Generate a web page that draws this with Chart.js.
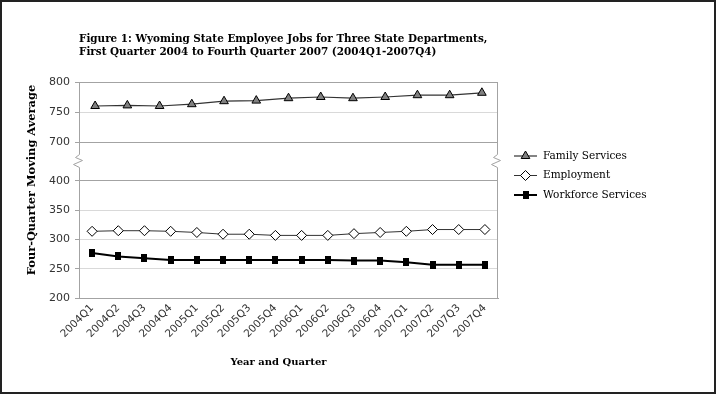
<!DOCTYPE html>
<html>
<head>
<meta charset="utf-8">
<script src="https://cdn.jsdelivr.net/npm/chart.js@4.4.1/dist/chart.umd.min.js"></script>
<style>
  html, body { margin: 0; background: #fff; }
  canvas { display: block; }
</style>
</head>
<body>
<canvas id="jobsChart" width="718" height="395"></canvas>
<script>
const quarters = ['2004Q1', '2004Q2', '2004Q3', '2004Q4', '2005Q1', '2005Q2', '2005Q3', '2005Q4',
  '2006Q1', '2006Q2', '2006Q3', '2006Q4', '2007Q1', '2007Q2', '2007Q3', '2007Q4'];
// the Family Services line only has 13 points, spread over the same width
const familyPoints = ['2004Q4', '2005Q1', '2005Q2', '2005Q3', '2005Q4', '2006Q1', '2006Q2',
  '2006Q3', '2006Q4', '2007Q1', '2007Q2', '2007Q3', '2007Q4'];
const familyServices = [760, 761, 760, 763, 768, 769, 773, 775, 773, 775, 778, 778, 782];
const employment = [314, 315, 315, 314, 312, 309, 309, 307, 307, 307, 310, 312, 314, 317, 317, 317];
const workforce = [277, 271, 268, 265, 265, 265, 265, 265, 265, 265, 264, 264, 261, 257, 257, 257];
const upperTicks = [700, 750, 800];
const lowerTicks = [200, 250, 300, 350, 400];

const titleLines = ['Figure 1: Wyoming State Employee Jobs for Three State Departments,',
  'First Quarter 2004 to Fourth Quarter 2007 (2004Q1-2007Q4)'];
const yTitle = 'Four-Quarter Moving Average';
const xTitle = 'Year and Quarter';

const serif = '"DejaVu Serif", serif';
const sans = '"DejaVu Sans", sans-serif';
const edgeGrid = '#a3a3a3';
const innerGrid = '#d9d9d9';

// black bar marker, a little taller than wide
const barMarker = document.createElement('canvas');
barMarker.width = 6;
barMarker.height = 8;
barMarker.getContext('2d').fillRect(0, 0, 6, 8);

function gridColor(edges) {
  return (ctx) => (ctx.tick && edges.includes(ctx.tick.value) ? edgeGrid : innerGrid);
}

function brokenLine(ctx, x, top, bottom, yb) {
  const zig = [[0, -7], [-4, -4], [3, -1], [-6, 3], [0, 6]];
  ctx.beginPath();
  ctx.moveTo(x, top);
  zig.forEach(([dx, dy]) => ctx.lineTo(x + dx, yb + dy));
  ctx.lineTo(x, bottom);
  ctx.stroke();
}

const decorations = {
  id: 'decorations',
  beforeDraw(chart) {
    const { ctx, width, height } = chart;
    ctx.save();
    ctx.fillStyle = '#fff';
    ctx.fillRect(0, 0, width, height);
    ctx.strokeStyle = '#222';
    ctx.lineWidth = 2;
    ctx.strokeRect(1, 1, width - 4, height - 3);
    ctx.restore();
  },
  afterDraw(chart) {
    const { ctx, chartArea } = chart;
    const yb = chart.scales.yTop.bottom;
    ctx.save();
    ctx.strokeStyle = edgeGrid;
    ctx.lineWidth = 1;
    brokenLine(ctx, Math.round(chartArea.left) + 0.5, chartArea.top, chartArea.bottom, yb);
    brokenLine(ctx, Math.round(chartArea.right) - 0.5, chartArea.top, chartArea.bottom, yb);

    // axis titles
    ctx.fillStyle = '#000';
    ctx.textAlign = 'center';
    ctx.textBaseline = 'middle';
    ctx.font = 'bold 10px ' + serif;
    ctx.fillText(xTitle, 278.5, 362);
    ctx.font = 'bold 11.4px ' + serif;
    ctx.translate(32, 180);
    ctx.rotate(-Math.PI / 2);
    ctx.fillText(yTitle, 0, 0);
    ctx.restore();

    // legend: line with marker, like the spreadsheet one
    ctx.save();
    ctx.font = '10.5px ' + serif;
    ctx.textBaseline = 'middle';
    chart.data.datasets.forEach((ds, i) => {
      const y = 156 + i * 19.5;
      ctx.strokeStyle = ds.borderColor;
      ctx.lineWidth = ds.borderWidth;
      ctx.beginPath();
      ctx.moveTo(514, y);
      ctx.lineTo(537, y);
      ctx.stroke();
      ctx.fillStyle = ds.pointBackgroundColor;
      ctx.strokeStyle = ds.pointBorderColor;
      ctx.lineWidth = ds.pointBorderWidth;
      Chart.helpers.drawPoint(ctx, {
        pointStyle: ds.pointStyle, radius: ds.pointRadius, rotation: 0, borderWidth: ds.pointBorderWidth
      }, 525.5, y);
      ctx.fillStyle = '#000';
      ctx.fillText(ds.label, 543, y);
    });
    ctx.restore();
  }
};

new Chart(document.getElementById('jobsChart'), {
  type: 'line',
  data: {
    labels: quarters,
    datasets: [
      {
        label: 'Family Services',
        data: familyServices,
        xAxisID: 'x2',
        yAxisID: 'yTop',
        borderColor: '#333',
        borderWidth: 1.2,
        pointStyle: 'triangle',
        pointRadius: 5,
        pointBackgroundColor: '#808080',
        pointBorderColor: '#000',
        pointBorderWidth: 1
      },
      {
        label: 'Employment',
        data: employment,
        xAxisID: 'x',
        yAxisID: 'yBot',
        borderColor: '#333',
        borderWidth: 1,
        pointStyle: 'rectRot',
        pointRadius: 5,
        pointBackgroundColor: '#fff',
        pointBorderColor: '#000',
        pointBorderWidth: 1
      },
      {
        label: 'Workforce Services',
        data: workforce,
        xAxisID: 'x',
        yAxisID: 'yBot',
        borderColor: '#000',
        borderWidth: 2,
        pointStyle: barMarker,
        pointRadius: 4,
        pointBackgroundColor: '#000',
        pointBorderColor: '#000',
        pointBorderWidth: 0
      }
    ]
  },
  options: {
    responsive: false,
    animation: false,
    events: [],
    layout: { padding: { left: 0, top: 0, right: 220, bottom: 0 } },
    plugins: {
      legend: { display: false },
      tooltip: { enabled: false },
      title: {
        display: true,
        text: titleLines,
        align: 'start',
        fullSize: false,
        color: '#000',
        font: { family: serif, weight: 'bold', size: 10.4, lineHeight: 1.25 },
        padding: { top: 32.5, bottom: 23.5 }
      }
    },
    scales: {
      x: {
        type: 'category',
        offset: true,
        grid: { display: false, drawTicks: false },
        border: { display: true, color: edgeGrid },
        ticks: { color: '#333', font: { family: sans, size: 10.5 }, minRotation: 45, maxRotation: 45, autoSkip: false, padding: 4 },
        afterFit: (scale) => { scale.height = 97; }
      },
      x2: {
        type: 'category',
        labels: familyPoints,
        offset: true,
        display: false
      },
      yBot: {
        type: 'linear',
        position: 'left',
        stack: 'broken',
        stackWeight: 136.5,
        weight: 0,
        min: 200,
        max: 433.3,
        border: { display: false },
        grid: { color: gridColor([200, 400]), tickColor: edgeGrid, tickLength: 4 },
        ticks: { color: '#333', font: { family: sans, size: 11 }, padding: 5 },
        afterBuildTicks: (scale) => { scale.ticks = lowerTicks.map((value) => ({ value })); },
        afterFit: (scale) => { scale.width = 79; }
      },
      yTop: {
        type: 'linear',
        position: 'left',
        stack: 'broken',
        stackWeight: 79.5,
        weight: 1,
        min: 667.5,
        max: 800,
        border: { display: false },
        grid: { color: gridColor([700, 800]), tickColor: edgeGrid, tickLength: 4 },
        ticks: { color: '#333', font: { family: sans, size: 11 }, padding: 5 },
        afterBuildTicks: (scale) => { scale.ticks = upperTicks.map((value) => ({ value })); },
        afterFit: (scale) => { scale.width = 79; }
      }
    }
  },
  plugins: [decorations]
});
</script>
</body>
</html>
